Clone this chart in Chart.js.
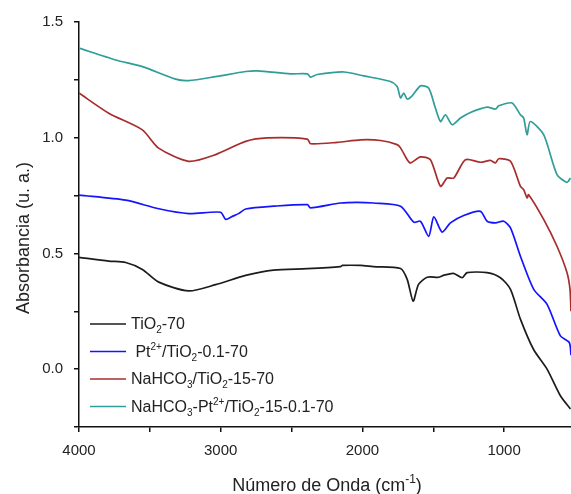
<!DOCTYPE html>
<html lang="es">
<head>
    <meta charset="UTF-8">
    <title>FTIR - Absorbancia</title>
    <script src="https://cdn.jsdelivr.net/npm/chart.js@4.4.0/dist/chart.umd.min.js"></script>
    <style>
        * { margin: 0; padding: 0; box-sizing: border-box; }
        body { background: #fff; width: 571px; height: 494px; overflow: hidden; }
        .chart-box { position: relative; width: 571px; height: 494px; }
    </style>
</head>
<body>
    <div class="chart-box">
        <canvas id="ftirChart"></canvas>
    </div>

    <script>
        // Wavenumbers (cm-1) and absorbance, one pair per sample
        const tio2Wn = [4000, 3790, 3670, 3553, 3437, 3226, 3036, 2824, 2627, 2388, 2155, 2141, 2014, 1923, 1731, 1684, 1642, 1604, 1543, 1463, 1428, 1358, 1296, 1261, 1120, 1026, 955, 885, 793, 697, 603, 532];
        const tio2Abs = [0.483, 0.467, 0.461, 0.431, 0.376, 0.338, 0.365, 0.405, 0.428, 0.434, 0.443, 0.448, 0.448, 0.443, 0.435, 0.388, 0.294, 0.366, 0.397, 0.397, 0.405, 0.414, 0.395, 0.417, 0.417, 0.395, 0.345, 0.216, 0.086, 0.0, -0.115, -0.172];

        const ptWn = [4000, 3670, 3437, 3226, 3001, 2965, 2918, 2874, 2824, 2627, 2388, 2367, 2155, 2037, 1923, 1731, 1638, 1590, 1532, 1496, 1437, 1379, 1285, 1167, 1120, 1061, 1003, 955, 885, 791, 697, 603, 540, 528];
        const ptAbs = [0.752, 0.730, 0.693, 0.672, 0.678, 0.647, 0.660, 0.672, 0.692, 0.704, 0.711, 0.697, 0.718, 0.721, 0.718, 0.704, 0.635, 0.639, 0.574, 0.658, 0.592, 0.632, 0.664, 0.682, 0.639, 0.632, 0.639, 0.610, 0.488, 0.345, 0.280, 0.144, 0.115, 0.06];

        const naWn = [4000, 3790, 3553, 3438, 3226, 3036, 2824, 2671, 2389, 2366, 2178, 2013, 1872, 1755, 1731, 1684, 1661, 1590, 1520, 1449, 1402, 1355, 1273, 1167, 1097, 1061, 1038, 955, 885, 862, 838, 827, 721, 627, 556, 535, 528];
        const naAbs = [1.193, 1.106, 1.034, 0.955, 0.898, 0.927, 0.984, 0.999, 0.994, 0.974, 0.980, 0.991, 0.988, 0.970, 0.956, 0.905, 0.891, 0.917, 0.905, 0.790, 0.826, 0.826, 0.905, 0.894, 0.902, 0.891, 0.909, 0.898, 0.790, 0.776, 0.740, 0.754, 0.647, 0.531, 0.417, 0.345, 0.25];

        const naPtWn = [4000, 3741, 3553, 3318, 3226, 3036, 2824, 2742, 2507, 2389, 2366, 2319, 2131, 1990, 1802, 1755, 1731, 1708, 1684, 1649, 1590, 1532, 1485, 1449, 1414, 1367, 1308, 1238, 1120, 1061, 1038, 944, 885, 862, 838, 815, 721, 627, 556, 532];
        const naPtAbs = [1.387, 1.336, 1.307, 1.253, 1.247, 1.264, 1.286, 1.289, 1.276, 1.276, 1.262, 1.273, 1.284, 1.267, 1.243, 1.221, 1.172, 1.193, 1.167, 1.181, 1.224, 1.214, 1.128, 1.070, 1.099, 1.056, 1.085, 1.109, 1.132, 1.124, 1.138, 1.150, 1.099, 1.085, 1.013, 1.070, 1.013, 0.841, 0.807, 0.826];

        // axis ticks (labels only on the round ones)
        const xTicks = [4000, 3500, 3000, 2500, 2000, 1500, 1000];
        const xLabels = ['4000', '', '3000', '', '2000', '', '1000'];
        const yTicks = [-0.25, 0, 0.25, 0.5, 0.75, 1.0, 1.25, 1.5];
        const yLabels = ['', '0.0', '', '0.5', '', '1.0', '', '1.5'];

        // Legend labels as pieces: plain, sub(script) or sup(erscript)
        const legendLabels = [
            [['TiO'], ['2', 'sub'], ['-70']],
            [[' Pt'], ['2+', 'sup'], ['/TiO'], ['2', 'sub'], ['-0.1-70']],
            [['NaHCO'], ['3', 'sub'], ['/TiO'], ['2', 'sub'], ['-15-70']],
            [['NaHCO'], ['3', 'sub'], ['-Pt'], ['2+', 'sup'], ['/TiO'], ['2', 'sub'], ['-15-0.1-70']]
        ];
        const seriesColors = ['#1c1c1c', '#1414ff', '#a82c2c', '#2f9d98'];

        const FONT = "'Liberation Sans', Arial, sans-serif";

        function toPoints(xs, ys) {
            return xs.map((x, i) => ({ x: x, y: ys[i] }));
        }

        // draws text with sub/superscripts starting at (x, y) baseline
        function drawRich(ctx, parts, x, y, size) {
            let cx = x;
            parts.forEach(p => {
                const kind = p[1];
                const fs = kind ? Math.round(size * 0.65) : size;
                ctx.font = fs + 'px ' + FONT;
                let dy = 0;
                if (kind === 'sub') dy = size * 0.28;
                if (kind === 'sup') dy = -size * 0.42;
                ctx.fillText(p[0], cx, y + dy);
                cx += ctx.measureText(p[0]).width;
            });
            return cx - x;
        }

        const textPlugin = {
            id: 'textPlugin',
            afterDraw(chart) {
                const ctx = chart.ctx;
                ctx.save();
                ctx.fillStyle = '#222';
                ctx.textBaseline = 'alphabetic';
                ctx.textAlign = 'left';

                // legend
                const rowY = [329, 356.5, 384, 411.5];
                legendLabels.forEach((parts, i) => {
                    ctx.strokeStyle = seriesColors[i];
                    ctx.lineWidth = 1.6;
                    ctx.beginPath();
                    ctx.moveTo(90, rowY[i] - 5);
                    ctx.lineTo(126, rowY[i] - 5);
                    ctx.stroke();
                    ctx.fillStyle = '#222';
                    drawRich(ctx, parts, 131, rowY[i], 16);
                });

                // x axis title
                const xParts = [['Número de Onda (cm'], ['-1', 'sup'], [')']];
                let w = 0;
                xParts.forEach(p => {
                    ctx.font = (p[1] ? 12 : 18) + 'px ' + FONT;
                    w += ctx.measureText(p[0]).width;
                });
                drawRich(ctx, xParts, 327 - w / 2, 491, 18);

                // y axis title
                ctx.translate(29, 238);
                ctx.rotate(-Math.PI / 2);
                ctx.textAlign = 'center';
                ctx.font = '18px ' + FONT;
                ctx.fillText('Absorbancia (u. a.)', 0, 0);
                ctx.restore();
            }
        };

        const ctx = document.getElementById('ftirChart').getContext('2d');
        new Chart(ctx, {
            type: 'line',
            data: {
                datasets: [
                    { label: 'TiO2-70', data: toPoints(tio2Wn, tio2Abs) },
                    { label: 'Pt2+/TiO2-0.1-70', data: toPoints(ptWn, ptAbs) },
                    { label: 'NaHCO3/TiO2-15-70', data: toPoints(naWn, naAbs) },
                    { label: 'NaHCO3-Pt2+/TiO2-15-0.1-70', data: toPoints(naPtWn, naPtAbs) }
                ].map((d, i) => Object.assign(d, {
                    borderColor: seriesColors[i],
                    borderWidth: 1.7,
                    pointRadius: 0,
                    tension: 0.25,
                    fill: false
                }))
            },
            options: {
                responsive: true,
                maintainAspectRatio: false,
                animation: false,
                layout: { padding: { top: 22, left: 0, right: 0, bottom: 0 } },
                plugins: {
                    legend: { display: false },
                    tooltip: { enabled: false }
                },
                scales: {
                    x: {
                        type: 'linear',
                        reverse: true,
                        min: 528,
                        max: 4000,
                        afterBuildTicks(scale) { scale.ticks = xTicks.map(v => ({ value: v })); },
                        afterFit(scale) { scale.height = 67; },
                        border: { display: true, color: '#111', width: 1.5 },
                        grid: { drawOnChartArea: false, drawTicks: true, tickLength: 5, color: '#111', lineWidth: 1.5 },
                        ticks: {
                            maxRotation: 0,
                            autoSkip: false,
                            padding: 10,
                            color: '#222',
                            font: { family: FONT, size: 15 },
                            callback: (v, i) => xLabels[i]
                        }
                    },
                    y: {
                        min: -0.25,
                        max: 1.5,
                        afterBuildTicks(scale) { scale.ticks = yTicks.map(v => ({ value: v })); },
                        afterFit(scale) { scale.width = 79; },
                        border: { display: true, color: '#111', width: 1.5 },
                        grid: { drawOnChartArea: false, drawTicks: true, tickLength: 5, color: '#111', lineWidth: 1.5 },
                        ticks: {
                            autoSkip: false,
                            padding: 11,
                            color: '#222',
                            font: { family: FONT, size: 15 },
                            callback: (v, i) => yLabels[i]
                        }
                    }
                }
            },
            plugins: [textPlugin]
        });
    </script>
</body>
</html>
